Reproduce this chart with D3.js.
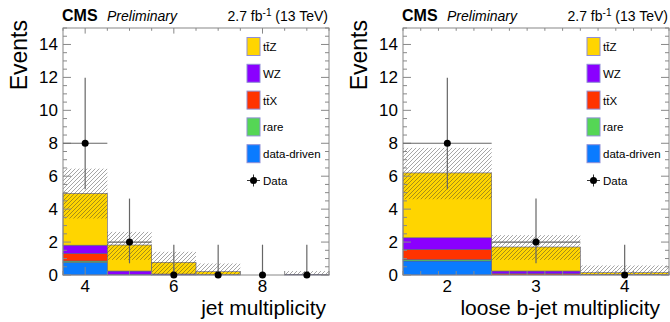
<!DOCTYPE html>
<html>
<head>
<meta charset="utf-8">
<script src="https://cdn.jsdelivr.net/npm/d3@7"></script>
<style>
  body { margin: 0; background: #fff; }
  text { font-family: "Liberation Sans", Arial, sans-serif; }
</style>
</head>
<body>
<div id="chart-area"></div>
<script>
// jet multiplicity panel
var jetBins = [4, 5, 6, 7, 8, 9];
var jetDataDriven = [0.75, 0, 0, 0, 0, 0];
var jetRare = [0.1, 0, 0, 0, 0, 0];
var jetTtx = [0.46, 0.02, 0.01, 0, 0, 0];
var jetWz = [0.5, 0.22, 0.05, 0.02, 0, 0];
var jetTtz = [3.14, 1.58, 0.71, 0.18, 0, 0.04];
var jetUncLo = [3.43, 0.92, 0, 0, 0, 0];
var jetUncHi = [6.46, 2.62, 1.41, 0.7, 0, 0.24];
var jetData = [8, 2, 0, 0, 0, 0];
var jetErrLo = [2.79, 1.29, 0, 0, 0, 0];
var jetErrHi = [3.98, 2.64, 1.84, 1.84, 1.84, 1.84];
var jetTicks = [4, 6, 8];

// loose b-jet multiplicity panel
var bBins = [2, 3, 4];
var bDataDriven = [0.85, 0, 0];
var bRare = [0.08, 0, 0];
var bTtx = [0.63, 0.08, 0.02];
var bWz = [0.7, 0.16, 0.02];
var bTtz = [3.94, 1.46, 0.1];
var bUncLo = [4.6, 0.92, 0];
var bUncHi = [7.72, 2.42, 0.58];
var bData = [8, 2, 0];
var bErrLo = [2.79, 1.29, 0];
var bErrHi = [3.98, 2.64, 1.84];
var bTicks = [2, 3, 4];

var yTicks = [0, 2, 4, 6, 8, 10, 12, 14];
var procNames = ["tt\u0304Z", "WZ", "tt\u0304X", "rare", "data-driven"];
var procColors = ["#ffd500", "#8a00ff", "#ff3300", "#55d655", "#0a7bff"];

var svg = d3.select("#chart-area")
    .append("svg")
    .attr("width", 670)
    .attr("height", 322);

// hatch pattern for the uncertainty band
var pat = svg.append("defs").append("pattern")
    .attr("id", "hatch")
    .attr("patternUnits", "userSpaceOnUse")
    .attr("width", 4).attr("height", 4);
pat.append("path")
    .attr("d", "M-1,1 l2,-2 M0,4 l4,-4 M3,5 l2,-2")
    .attr("stroke", "#333")
    .attr("stroke-opacity", 0.55)
    .attr("stroke-width", 0.8);

function drawPanel(p) {
    var x = d3.scaleLinear().domain(p.xDomain).range([p.x0, p.x1]);
    var y = d3.scaleLinear().domain([0, 15]).range([275, 28]);
    var g = svg.append("g");

    // stacked backgrounds: bottom to top
    var layers = [p.dataDriven, p.rare, p.ttx, p.wz, p.ttz];
    var layerColors = [procColors[4], procColors[3], procColors[2], procColors[1], procColors[0]];
    p.bins.forEach(function(b, i) {
        var base = 0;
        layers.forEach(function(arr, k) {
            var v = arr[i];
            if (v > 0) {
                g.append("rect")
                    .attr("x", x(b - 0.5))
                    .attr("width", x(b + 0.5) - x(b - 0.5))
                    .attr("y", y(base + v))
                    .attr("height", y(base) - y(base + v))
                    .attr("fill", layerColors[k])
                    .attr("stroke", "#5a5a8a")
                    .attr("stroke-width", 0.6);
            }
            base += v;
        });
    });

    // uncertainty band
    p.bins.forEach(function(b, i) {
        if (p.uncHi[i] > p.uncLo[i]) {
            g.append("rect")
                .attr("x", x(b - 0.5))
                .attr("width", x(b + 0.5) - x(b - 0.5))
                .attr("y", y(p.uncHi[i]))
                .attr("height", y(p.uncLo[i]) - y(p.uncHi[i]))
                .attr("fill", "url(#hatch)");
        }
    });

    // frame
    g.append("rect")
        .attr("x", p.x0).attr("y", 28)
        .attr("width", p.x1 - p.x0).attr("height", 247)
        .attr("fill", "none")
        .attr("stroke", "#888")
        .attr("stroke-width", 1);

    // y ticks (both sides)
    var yMinor = d3.range(0, 15.01, 0.5);
    yMinor.forEach(function(v) {
        var major = yTicks.indexOf(v) >= 0;
        var len = major ? 8 : 4;
        g.append("line").attr("x1", p.x0).attr("x2", p.x0 + len)
            .attr("y1", y(v)).attr("y2", y(v)).attr("stroke", "#888");
        g.append("line").attr("x1", p.x1).attr("x2", p.x1 - len)
            .attr("y1", y(v)).attr("y2", y(v)).attr("stroke", "#888");
    });
    g.selectAll(".ylab").data(yTicks).enter().append("text")
        .attr("x", p.x0 - 5)
        .attr("y", function(d) { return y(d) + 6; })
        .attr("text-anchor", "end")
        .attr("font-size", "17px")
        .text(function(d) { return d; });

    // x ticks (top and bottom)
    d3.range(p.xDomain[0], p.xDomain[1] + 1e-6, p.xMinorStep).forEach(function(v) {
        var major = p.xTicks.some(function(t) { return Math.abs(t - v) < 1e-6; });
        var len = major ? 8 : 4;
        g.append("line").attr("x1", x(v)).attr("x2", x(v))
            .attr("y1", 275).attr("y2", 275 - len).attr("stroke", "#888");
        g.append("line").attr("x1", x(v)).attr("x2", x(v))
            .attr("y1", 28).attr("y2", 28 + len * 0.7).attr("stroke", "#888");
    });
    g.selectAll(".xlab").data(p.xTicks).enter().append("text")
        .attr("x", function(d) { return x(d); })
        .attr("y", 292)
        .attr("text-anchor", "middle")
        .attr("font-size", "17px")
        .text(function(d) { return d; });

    // data points with Poisson errors
    p.bins.forEach(function(b, i) {
        var cx = x(b), cy = y(p.data[i]);
        g.append("line").attr("x1", cx).attr("x2", cx)
            .attr("y1", y(p.data[i] - p.errLo[i])).attr("y2", y(p.data[i] + p.errHi[i]))
            .attr("stroke", "#666").attr("stroke-width", 1.2);
        if (p.data[i] > 0) {
            g.append("line").attr("x1", x(b - 0.5)).attr("x2", x(b + 0.5))
                .attr("y1", cy).attr("y2", cy)
                .attr("stroke", "#666").attr("stroke-width", 1.2);
        }
        g.append("circle").attr("cx", cx).attr("cy", cy).attr("r", 3.5).attr("fill", "#000");
    });

    // axis titles
    g.append("text")
        .attr("transform", "translate(" + (p.x0 - 36) + ",20) rotate(-90)")
        .attr("text-anchor", "end")
        .attr("font-size", "23px")
        .text("Events");
    g.append("text")
        .attr("x", p.xTitleEnd).attr("y", 315)
        .attr("text-anchor", "end")
        .attr("font-size", "21px")
        .text(p.xTitle);

    // header
    g.append("text").attr("x", p.x0 - 1).attr("y", 21)
        .attr("font-size", "16px").attr("font-weight", "bold").text("CMS");
    g.append("text").attr("x", p.x0 + 44).attr("y", 21)
        .attr("font-size", "14px").attr("font-style", "italic").text("Preliminary");
    var lumi = g.append("text").attr("x", p.x1 - 1).attr("y", 21)
        .attr("text-anchor", "end").attr("font-size", "14px");
    lumi.append("tspan").text("2.7 fb");
    lumi.append("tspan").attr("dy", -5).attr("font-size", "10px").text("-1");
    lumi.append("tspan").attr("dy", 5).text(" (13 TeV)");

    // legend
    var lx = p.x1 - 82;
    procNames.forEach(function(name, k) {
        var cy = 46.5 + k * 26.8;
        g.append("rect").attr("x", lx).attr("y", cy - 9)
            .attr("width", 13).attr("height", 18)
            .attr("fill", procColors[k])
            .attr("stroke", "#8f8fd6").attr("stroke-width", 1);
        g.append("text").attr("x", lx + 16).attr("y", cy + 4.5)
            .attr("font-size", "11.5px").text(name);
    });
    var dy = 46.5 + 5 * 26.8;
    g.append("line").attr("x1", lx).attr("x2", lx + 13).attr("y1", dy).attr("y2", dy).attr("stroke", "#333");
    g.append("line").attr("x1", lx + 6.5).attr("x2", lx + 6.5).attr("y1", dy - 6).attr("y2", dy + 6).attr("stroke", "#333");
    g.append("circle").attr("cx", lx + 6.5).attr("cy", dy).attr("r", 3.5).attr("fill", "#000");
    g.append("text").attr("x", lx + 16).attr("y", dy + 4.5)
        .attr("font-size", "11.5px").text("Data");
}

drawPanel({
    x0: 63, x1: 329, xDomain: [3.5, 9.5], xTicks: jetTicks, xMinorStep: 0.5,
    bins: jetBins, dataDriven: jetDataDriven, rare: jetRare, ttx: jetTtx, wz: jetWz, ttz: jetTtz,
    uncLo: jetUncLo, uncHi: jetUncHi, data: jetData, errLo: jetErrLo, errHi: jetErrHi,
    xTitle: "jet multiplicity", xTitleEnd: 326
});
drawPanel({
    x0: 403, x1: 669, xDomain: [1.5, 4.5], xTicks: bTicks, xMinorStep: 0.2,
    bins: bBins, dataDriven: bDataDriven, rare: bRare, ttx: bTtx, wz: bWz, ttz: bTtz,
    uncLo: bUncLo, uncHi: bUncHi, data: bData, errLo: bErrLo, errHi: bErrHi,
    xTitle: "loose b-jet multiplicity", xTitleEnd: 660
});
</script>
</body>
</html>
